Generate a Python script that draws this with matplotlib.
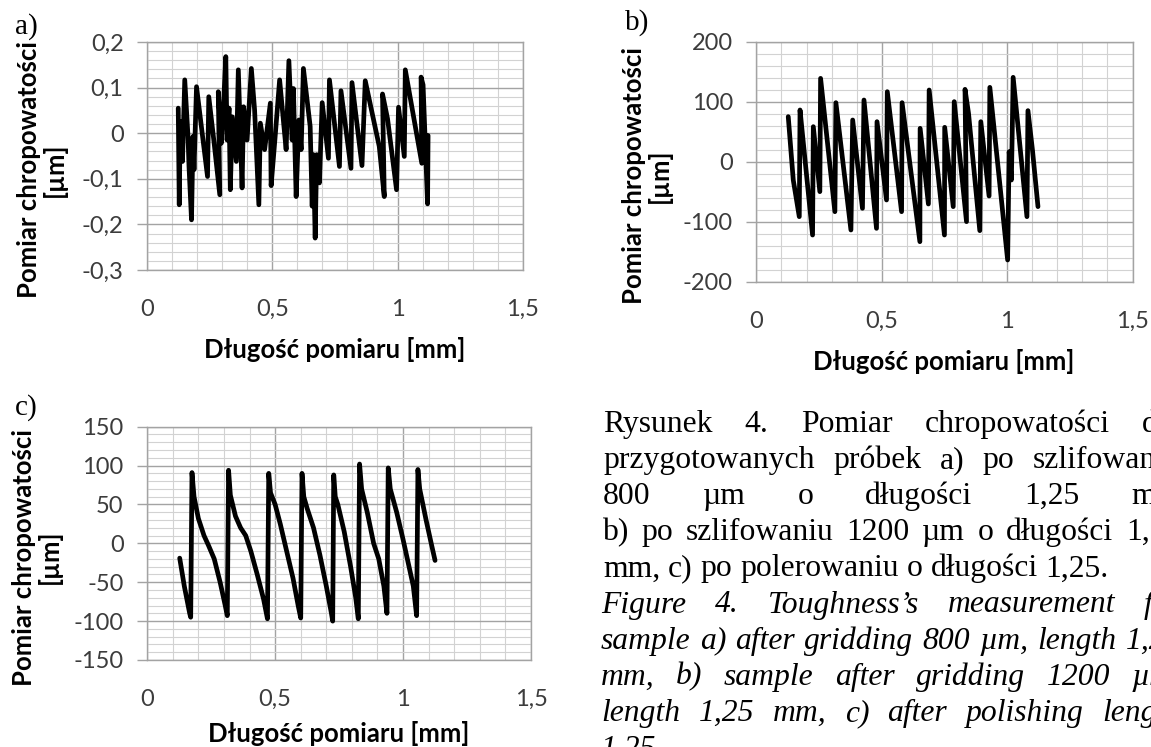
import matplotlib
matplotlib.use("Agg")
import matplotlib.pyplot as plt
from matplotlib.ticker import MultipleLocator

plt.rcParams['font.family'] = ['Lato', 'DejaVu Sans']

# ---------------- data ----------------
# a) after grinding 800 um  (x: mm, y: um)
a_x = [0.124, 0.128, 0.132, 0.141, 0.150, 0.163, 0.167, 0.177, 0.183, 0.187,
       0.197, 0.223, 0.241, 0.246, 0.266, 0.290, 0.284, 0.296, 0.303, 0.314,
       0.319, 0.327, 0.332, 0.340, 0.356, 0.364, 0.379, 0.385, 0.399, 0.416,
       0.429, 0.446, 0.452, 0.469, 0.492, 0.495, 0.510, 0.529, 0.545, 0.555,
       0.566, 0.579, 0.584, 0.595, 0.606, 0.615, 0.624, 0.651, 0.659, 0.664,
       0.671, 0.677, 0.688, 0.699, 0.724, 0.728, 0.768, 0.774, 0.814, 0.818,
       0.858, 0.871, 0.927, 0.947, 0.940, 0.960, 0.996, 1.004, 1.027, 1.031,
       1.097, 1.094, 1.102, 1.120, 1.122]
a_y = [0.055, -0.157, 0.026, -0.062, 0.117, -0.007, -0.073, -0.190, -0.007, -0.080,
       0.102, -0.015, -0.095, 0.080, -0.015, -0.135, 0.091, -0.022, 0.040, 0.168,
       -0.015, 0.055, -0.124, 0.036, -0.062, 0.139, -0.120, 0.058, -0.015, 0.142,
       0.051, -0.157, 0.022, -0.036, 0.066, -0.115, -0.015, 0.117, 0.022, -0.036,
       0.159, -0.015, 0.098, -0.139, 0.029, -0.036, 0.142, 0.015, -0.160, -0.047,
       -0.230, -0.047, -0.109, 0.067, -0.055, 0.117, -0.073, 0.093, -0.077, 0.111,
       -0.071, 0.115, -0.029, -0.139, 0.086, 0.032, -0.124, 0.057, -0.051, 0.139,
       -0.066, 0.123, 0.106, -0.155, -0.005]

# b) after grinding 1200 um
b_x = [0.127, 0.147, 0.171, 0.174, 0.190, 0.224, 0.227, 0.253, 0.256, 0.313,
       0.317, 0.377, 0.384, 0.423, 0.429, 0.479, 0.481, 0.519, 0.522, 0.579,
       0.581, 0.652, 0.653, 0.686, 0.689, 0.750, 0.751, 0.785, 0.789, 0.838,
       0.832, 0.846, 0.891, 0.895, 0.928, 0.931, 1.002, 1.008, 1.017, 1.024,
       1.079, 1.083, 1.101, 1.123]
b_y = [75.6, -30.0, -91.1, 86.7, 20.0, -121.7, 58.9, -49.4, 139.4, -82.8,
       98.9, -113.3, 70.0, -77.2, 103.3, -110.6, 67.2, -63.3, 117.2, -82.8,
       98.9, -132.8, 56.1, -70.0, 120.0, -121.7, 57.8, -74.4, 100.6, -99.4,
       121.1, 81.1, -114.4, 67.2, -56.7, 124.4, -163.3, 17.2, -30.0, 141.1,
       -91.1, 85.6, 20.0, -74.4]

# c) after polishing
c_x = [0.127, 0.145, 0.166, 0.170, 0.175, 0.183, 0.200, 0.222, 0.240, 0.262,
       0.285, 0.305, 0.313, 0.318, 0.325, 0.345, 0.365, 0.385, 0.405, 0.430,
       0.455, 0.470, 0.475, 0.482, 0.500, 0.520, 0.545, 0.570, 0.590, 0.600,
       0.605, 0.612, 0.625, 0.650, 0.675, 0.700, 0.720, 0.725, 0.729, 0.735,
       0.745, 0.770, 0.795, 0.815, 0.825, 0.830, 0.838, 0.860, 0.885, 0.905,
       0.925, 0.937, 0.942, 0.950, 0.975, 1.000, 1.020, 1.040, 1.053, 1.058,
       1.065, 1.090, 1.110, 1.125]
c_y = [-19, -55, -90, -95, 91, 60, 32, 10, -3, -20,
       -50, -80, -93, 94, 62, 35, 20, 10, -10, -40,
       -72, -97, 90, 65, 50, 25, -10, -45, -80, -96,
       90, 60, 45, 20, -15, -55, -90, -100, 88, 60,
       50, 15, -30, -70, -97, 102, 70, 40, 0, -20,
       -55, -90, 97, 70, 40, 5, -25, -55, -93, 95,
       70, 30, 0, -22]

x_ticks = [0, 0.5, 1, 1.5]
x_ticklabels = ["0", "0,5", "1", "1,5"]
a_yticks = [-0.3, -0.2, -0.1, 0, 0.1, 0.2]
a_yticklabels = ["-0,3", "-0,2", "-0,1", "0", "0,1", "0,2"]
b_yticks = [-200, -100, 0, 100, 200]
b_yticklabels = ["-200", "-100", "0", "100", "200"]
c_yticks = [-150, -100, -50, 0, 50, 100, 150]
c_yticklabels = ["-150", "-100", "-50", "0", "50", "100", "150"]

x_title = "Długość pomiaru [mm]"
y_title = "Pomiar chropowatości\n[µm]"

caption_pl = ["Rysunek 4. Pomiar chropowatości dla",
              "przygotowanych próbek a) po szlifowaniu",
              "800 µm o długości 1,25 mm",
              "b) po szlifowaniu 1200 µm o długości 1,25",
              "mm, c) po polerowaniu o długości 1,25."]
caption_en = ["Figure 4. Toughness’s measurement for",
              "sample a) after gridding 800 µm, length 1,25",
              "mm, b) sample after gridding 1200 µm,",
              "length 1,25 mm, c) after polishing length",
              "1,25."]

# ---------------- figure ----------------
W, H = 1151, 747
fig = plt.figure(figsize=(W / 100, H / 100), dpi=100)
fig.patch.set_facecolor('white')

MAJ = '#a3a3a3'
MIN = '#d2d2d2'
TC = '#3c3c3c'
TICK_FS = 17
TITLE_FS = 18.5


def add_ax(left, right, top, bottom):
    return fig.add_axes([left / W, 1 - bottom / H, (right - left) / W, (bottom - top) / H])


def style(ax, yt, ytl, yminor):
    ax.set_xlim(0, 1.5)
    ax.set_ylim(yt[0], yt[-1])
    ax.set_xticks(x_ticks)
    ax.set_xticklabels(x_ticklabels)
    ax.xaxis.set_minor_locator(MultipleLocator(0.1))
    ax.set_yticks(yt)
    ax.set_yticklabels(ytl)
    ax.yaxis.set_minor_locator(MultipleLocator(yminor))
    ax.grid(which='minor', color=MIN, lw=0.8)
    ax.grid(which='major', color=MAJ, lw=1.0)
    ax.set_axisbelow(True)
    for s in ax.spines.values():
        s.set_color(MAJ)
        s.set_linewidth(1.0)
    ax.tick_params(axis='x', which='both', length=0, pad=21,
                   labelsize=TICK_FS, labelcolor=TC)
    ax.tick_params(axis='y', which='major', length=7, width=1.0, color=MAJ,
                   direction='out', pad=10, labelsize=TICK_FS, labelcolor=TC)
    ax.tick_params(axis='y', which='minor', length=0)


LINE_KW = dict(color='black', lw=3.4, solid_joinstyle='round', solid_capstyle='round')

ax_a = add_ax(147.2, 522.7, 42, 270)
style(ax_a, a_yticks, a_yticklabels, 0.02)
ax_a.plot(a_x, a_y, **LINE_KW)

ax_b = add_ax(756.4, 1132.5, 42, 282)
style(ax_b, b_yticks, b_yticklabels, 20)
ax_b.plot(b_x, b_y, **LINE_KW)

ax_c = add_ax(147.2, 531.0, 426.7, 660)
style(ax_c, c_yticks, c_yticklabels, 10)
ax_c.plot(c_x, c_y, **LINE_KW)

# axis titles
for (cx, cy) in [(335, 349), (944, 362), (339, 734)]:
    fig.text(cx / W, 1 - cy / H, x_title, ha='center', va='center',
             fontsize=TITLE_FS, fontweight='bold', color='black')
for (cx, cy) in [(42, 170), (647, 176), (37, 557)]:
    fig.text(cx / W, 1 - cy / H, y_title, ha='center', va='center', rotation=90,
             multialignment='center', linespacing=1.05,
             fontsize=TITLE_FS, fontweight='bold', color='black')

# panel letters
SERIF = ['Liberation Serif', 'DejaVu Serif']
for (lx, ly, s) in [(15, 27, 'a)'), (625, 23, 'b)'), (15, 408, 'c)')]:
    fig.text(lx / W, 1 - ly / H, s, ha='left', va='center', family=SERIF,
             fontsize=21, color='black')

# caption (justified text block; the reference page is cut at the right edge)
CAP_L, CAP_R = 603, 1181
CAP_FS = 22.8
renderer = fig.canvas.get_renderer()


def width_of(s, style_):
    t = fig.text(0, 0, s, family=SERIF, fontsize=CAP_FS, style=style_)
    w = t.get_window_extent(renderer=renderer).width
    t.remove()
    return w


def put_line(line, baseline, style_, justify, left):
    words = line.split(' ')
    widths = [width_of(w, style_) for w in words]
    if justify and len(words) > 1:
        gap = (CAP_R - left - sum(widths)) / (len(words) - 1)
    else:
        gap = width_of('a a', style_) - width_of('aa', style_)
    x = left
    for w, wd in zip(words, widths):
        fig.text(x / W, 1 - baseline / H, w, ha='left', va='baseline',
                 family=SERIF, fontsize=CAP_FS, style=style_, color='black')
        x += wd + gap


base0, step = 432.0, 36.1
for i, line in enumerate(caption_pl):
    put_line(line, base0 + step * i, 'normal', i < len(caption_pl) - 1, CAP_L)
for j, line in enumerate(caption_en):
    put_line(line, base0 + step * (len(caption_pl) + j), 'italic',
             j < len(caption_en) - 1, CAP_L - 2)

fig.savefig('out.png', dpi=100)
